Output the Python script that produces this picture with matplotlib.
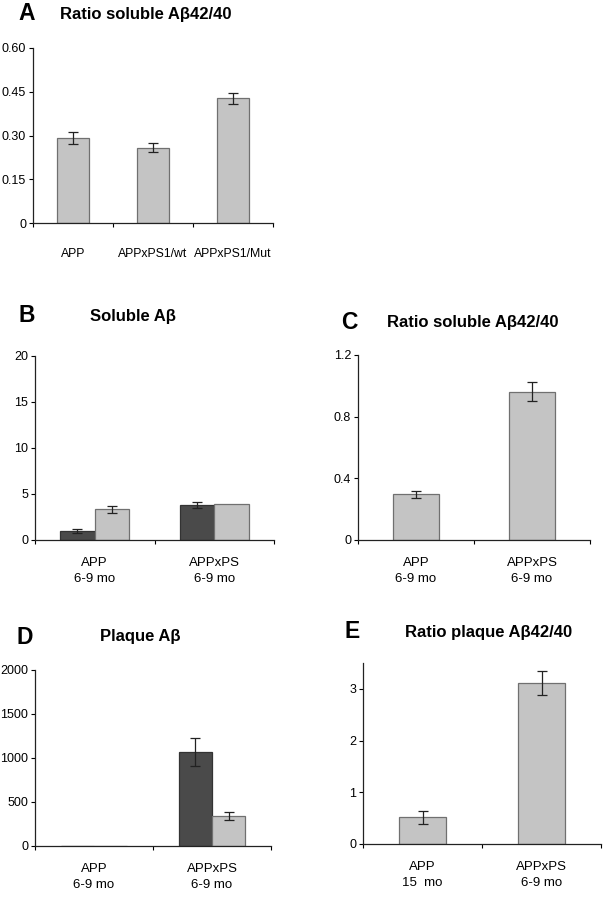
import matplotlib
matplotlib.use("Agg")
import matplotlib.pyplot as plt
import numpy as np

plt.rcParams['font.family'] = ['Liberation Sans', 'DejaVu Sans']

# Panel A
a_cats = ["APP", "APPxPS1/wt", "APPxPS1/Mut"]
a_vals = [0.291, 0.258, 0.427]
a_err = [0.020, 0.015, 0.020]
a_ticks = [0, 0.15, 0.30, 0.45, 0.60]
a_ticklabels = ["0", "0.15", "0.30", "0.45", "0.60"]

# Panel B
b_cats = ["APP\n6-9 mo", "APPxPS\n6-9 mo"]
b_dark = [0.98, 3.80]
b_dark_err = [0.25, 0.35]
b_light = [3.33, 3.90]
b_light_err = [0.40, 0.0]
b_ticks = [0, 5, 10, 15, 20]

# Panel C
c_cats = ["APP\n6-9 mo", "APPxPS\n6-9 mo"]
c_vals = [0.296, 0.962]
c_err = [0.024, 0.060]
c_ticks = [0, 0.4, 0.8, 1.2]
c_ticklabels = ["0", "0.4", "0.8", "1.2"]

# Panel D
d_cats = ["APP\n6-9 mo", "APPxPS\n6-9 mo"]
d_dark = [4, 1064]
d_dark_err = [0, 160]
d_light = [4, 341]
d_light_err = [0, 48]
d_ticks = [0, 500, 1000, 1500, 2000]

# Panel E
e_cats = ["APP\n15  mo", "APPxPS\n6-9 mo"]
e_vals = [0.516, 3.116]
e_err = [0.13, 0.23]
e_ticks = [0, 1, 2, 3]

LIGHT = "#c4c4c4"
DARK = "#4a4a4a"
EDGE = "#707070"

W, H = 603, 900
fig = plt.figure(figsize=(W / 100, H / 100), dpi=100)


def make_ax(left, right, top, bottom):
    return fig.add_axes([left / W, 1 - bottom / H, (right - left) / W, (bottom - top) / H])


def style(ax, n, ylim, ticks, ticklabels, cats, pad=12, xsize=9.5):
    ax.set_xlim(0, n)
    ax.set_ylim(*ylim)
    for s in ["top", "right"]:
        ax.spines[s].set_visible(False)
    for s in ["left", "bottom"]:
        ax.spines[s].set_linewidth(0.9)
        ax.spines[s].set_color("#222222")
    ax.set_yticks(ticks)
    ax.set_yticklabels(ticklabels)
    ax.tick_params(axis="y", length=3, width=0.8, labelsize=9, pad=2)
    ax.set_xticks(np.arange(n + 1), minor=False)
    ax.set_xticklabels([""] * (n + 1))
    ax.tick_params(axis="x", which="major", length=3, width=0.8)
    ax.set_xticks(np.arange(n) + 0.5, minor=True)
    ax.set_xticklabels(cats, minor=True, linespacing=1.45)
    ax.tick_params(axis="x", which="minor", length=0, labelsize=xsize, pad=pad)


def single(ax, vals, err, width):
    x = np.arange(len(vals)) + 0.5
    ax.bar(x, vals, width=width, color=LIGHT, edgecolor=EDGE, linewidth=0.9, zorder=2)
    ax.errorbar(x, vals, yerr=err, fmt="none", ecolor="#222222", elinewidth=0.9,
                capsize=3.5, capthick=0.9, zorder=3)


def grouped(ax, dark, dark_err, light, light_err, width):
    x = np.arange(len(dark)) + 0.5
    ax.bar(x - width / 2, dark, width=width, color=DARK, edgecolor="#333333", linewidth=0.9, zorder=2)
    ax.bar(x + width / 2, light, width=width, color=LIGHT, edgecolor=EDGE, linewidth=0.9, zorder=2)
    de = np.array(dark_err, dtype=float)
    le = np.array(light_err, dtype=float)
    md = de > 0
    ml = le > 0
    ax.errorbar((x - width / 2)[md], np.array(dark)[md], yerr=de[md], fmt="none", ecolor="#222222",
                elinewidth=0.9, capsize=3.5, capthick=0.9, zorder=3)
    ax.errorbar((x + width / 2)[ml], np.array(light)[ml], yerr=le[ml], fmt="none", ecolor="#222222",
                elinewidth=0.9, capsize=3.5, capthick=0.9, zorder=3)


# A
axA = make_ax(33, 273, 48, 223)
single(axA, a_vals, a_err, 0.39)
style(axA, 3, (0, 0.6), a_ticks, a_ticklabels, a_cats, pad=18, xsize=8.8)

# B
axB = make_ax(35, 274, 356, 540)
grouped(axB, b_dark, b_dark_err, b_light, b_light_err, 0.29)
style(axB, 2, (0, 20), b_ticks, [str(t) for t in b_ticks], b_cats)

# C
axC = make_ax(358, 590, 355, 540)
single(axC, c_vals, c_err, 0.40)
style(axC, 2, (0, 1.2), c_ticks, c_ticklabels, c_cats)

# D
axD = make_ax(35, 271, 670, 846)
grouped(axD, d_dark, d_dark_err, d_light, d_light_err, 0.28)
style(axD, 2, (0, 2000), d_ticks, [str(t) for t in d_ticks], d_cats)

# E
axE = make_ax(363, 601, 663, 844)
single(axE, e_vals, e_err, 0.40)
style(axE, 2, (0, 3.5), e_ticks, [str(t) for t in e_ticks], e_cats)


def title(letter, lx, ly, text, tx):
    fig.text(lx / W, 1 - ly / H, letter, fontsize=16.5, fontweight="bold", ha="left", va="center",
             family=["Liberation Sans", "DejaVu Sans"])
    fig.text(tx / W, 1 - ly / H, text, fontsize=12, fontweight="bold", ha="left", va="center",
             family=["Liberation Sans", "DejaVu Sans"])


title("A", 18, 14, "Ratio soluble Aβ42/40", 60)
title("B", 19, 316, "Soluble Aβ", 90)
title("C", 341, 323, "Ratio soluble Aβ42/40", 387)
title("D", 16, 637, "Plaque Aβ", 100)
title("E", 345, 632, "Ratio plaque Aβ42/40", 405)

fig.savefig("out.png", dpi=100)
